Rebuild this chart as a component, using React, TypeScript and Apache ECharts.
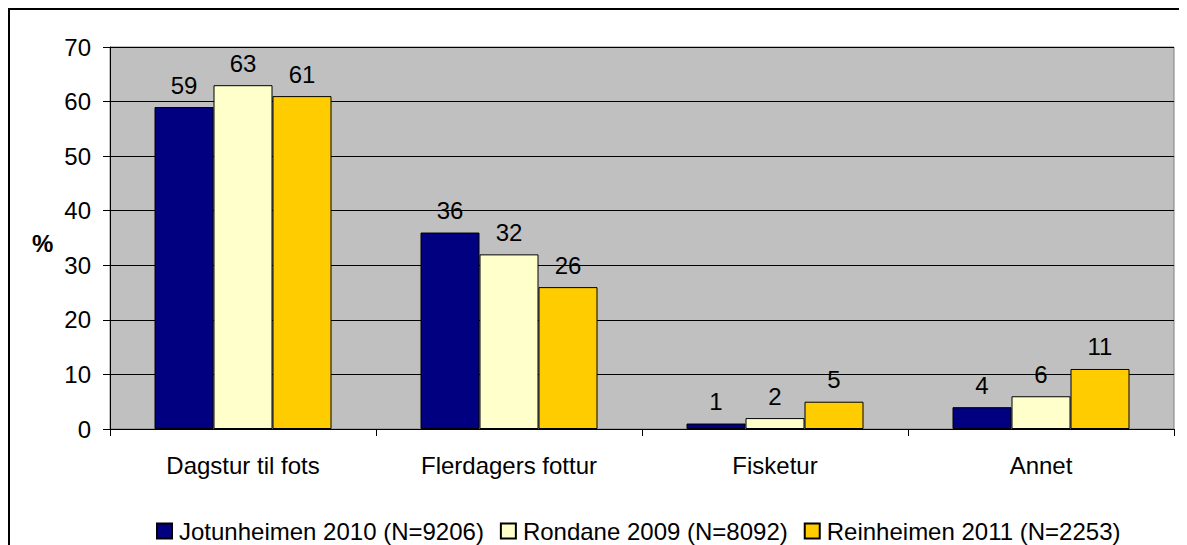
import React, { useEffect, useRef } from "react";
import * as echarts from "echarts";

const categories = ["Dagstur til fots", "Flerdagers fottur", "Fisketur", "Annet"];
const seriesNames = [
  "Jotunheimen 2010 (N=9206)",
  "Rondane 2009 (N=8092)",
  "Reinheimen 2011 (N=2253)",
];
const jotunheimen = [59, 36, 1, 4];
const rondane = [63, 32, 2, 6];
const reinheimen = [61, 26, 5, 11];
const colors = ["#000080", "#FFFFCC", "#FFCC00"];
const yTicks = { min: 0, max: 70, interval: 10 };

const FONT = "'Liberation Sans', Arial, sans-serif";
const FS = 24;

export default function App() {
  const ref = useRef<HTMLDivElement>(null);
  useEffect(() => {
    document.documentElement.style.overflow = "hidden";
    document.body.style.overflow = "hidden";
    if (!ref.current) return;
    const chart = echarts.init(ref.current, null, { renderer: "svg" });
    const values = [jotunheimen, rondane, reinheimen];
    chart.setOption({
      animation: false,
      textStyle: { fontFamily: FONT },
      grid: {
        left: 100,
        top: 37,
        right: 13,
        bottom: 116,
        show: true,
        backgroundColor: "#C0C0C0",
        borderColor: "#808080",
        borderWidth: 1,
      },
      legend: {
        left: 146,
        top: 509,
        padding: 0,
        itemWidth: 15,
        itemHeight: 15,
        itemGap: 16,
        icon: "rect",
        textStyle: { fontSize: FS, color: "#000", fontFamily: FONT, padding: [0, 0, 0, 2] },
        data: seriesNames,
      },
      graphic: [
        {
          type: "text",
          left: 22,
          top: 221,
          style: { text: "%", font: `bold ${FS}px ${FONT}`, fill: "#000" },
        },
      ],
      xAxis: {
        type: "category",
        data: categories,
        axisLine: { show: true, lineStyle: { color: "#000", width: 1 } },
        axisTick: { show: true, length: 7, lineStyle: { color: "#000" } },
        axisLabel: { fontSize: FS, color: "#000", margin: 24, fontFamily: FONT },
        splitLine: { show: false },
      },
      yAxis: {
        type: "value",
        min: yTicks.min,
        max: yTicks.max,
        interval: yTicks.interval,
        axisLine: { show: true, lineStyle: { color: "#000", width: 1 } },
        axisTick: { show: true, length: 7, lineStyle: { color: "#000" } },
        axisLabel: { fontSize: FS, color: "#000", margin: 19, fontFamily: FONT },
        splitLine: { show: true, lineStyle: { color: "#000", width: 1 } },
      },
      series: seriesNames.map((name, i) => ({
        name,
        type: "bar",
        data: values[i],
        barWidth: 59,
        barGap: "0%",
        itemStyle: { color: colors[i], borderColor: "#000", borderWidth: 1 },
        label: {
          show: true,
          position: "top",
          distance: 10,
          fontSize: FS,
          color: "#000",
          fontFamily: FONT,
        },
      })),
    });
    return () => chart.dispose();
  }, []);
  return (
    <div
      style={{
        width: 1179,
        height: 537,
        borderTop: "2px solid #000",
        borderLeft: "2px solid #000",
        boxSizing: "border-box",
        background: "#fff",
      }}
    >
      <div ref={ref} style={{ width: 1177, height: 535 }} />
    </div>
  );
}
